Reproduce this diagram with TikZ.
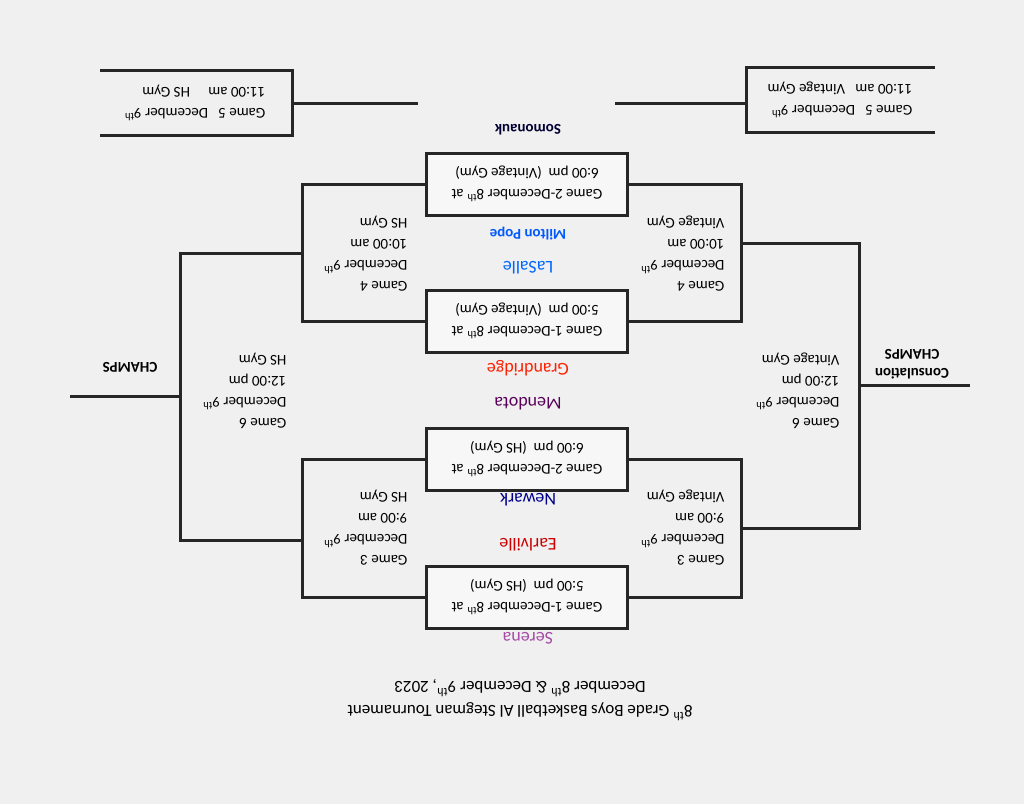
\documentclass[tikz,border=0pt]{standalone}
\usepackage{fontspec}
\setmainfont{Carlito}
\newcommand{\nth}[1]{#1\textsuperscript{th}}
\tikzset{
  bracket/.style={line width=3pt, color=black!85},
  gamebox/.style={rectangle, draw=black!85, line width=3pt, fill=gray!6, minimum width=201pt, minimum height=62pt, align=center, rotate=180, font=\fontsize{15}{21}\selectfont},
  info/.style={align=left, anchor=west, rotate=180, font=\fontsize{15}{21}\selectfont},
  team/.style={rotate=180, font=\fontsize{18}{20}\selectfont}
}
\begin{document}
\begin{tikzpicture}[x=1pt, y=-1pt]
\fill[gray!12] (0,0) rectangle (1024,804);
\useasboundingbox (0,0) rectangle (1024,804);

% first round games
\node[gamebox] (game1 hs) at (527,597) {Game 1-December \nth{8} at\\5:00 pm \ (HS Gym)};
\node[gamebox] (game2 hs) at (527,459) {Game 2-December \nth{8} at\\6:00 pm \ (HS Gym)};
\node[gamebox] (game1 vg) at (527,321) {Game 1-December \nth{8} at\\5:00 pm \ (Vintage Gym)};
\node[gamebox] (game2 vg) at (527,184) {Game 2-December \nth{8} at\\6:00 pm \ (Vintage Gym)};

% brackets
\draw[bracket] (game1 hs.east) -- (302,597) |- (game2 hs.east);
\draw[bracket] (game1 hs.west) -- (741,597) |- (game2 hs.west);
\draw[bracket] (game1 vg.east) -- (302,321) |- (game2 vg.east);
\draw[bracket] (game1 vg.west) -- (741,321) |- (game2 vg.west);
\draw[bracket] (302,540) -- (180,540) -- (180,253) -- (302,253);
\draw[bracket] (741,528) -- (859,528) -- (859,243) -- (741,243);
\coordinate (champs) at (70,396);
\coordinate (consol) at (970,385);
\draw[bracket] (180,396) -- (champs);
\draw[bracket] (859,385) -- (consol);

% teams
\node[team, color=violet!70] (serena) at (528,638) {Serena};
\node[team, color=red!80!black] (earlville) at (528,545) {Earlville};
\node[team, color=blue!55!black] (newark) at (528,500) {Newark};
\node[team, color=violet!70!black] (mendota) at (528,404) {Mendota};
\node[team, color=red!75!orange] (grandridge) at (528,368) {Grandridge};
\node[team, color=blue!60!cyan] (lasalle) at (528,268) {LaSalle};
\node[team, color=blue!65!cyan, font=\bfseries\fontsize{15}{18}\selectfont] (milton) at (528,234) {Milton Pope};
\node[team, color=black!80!blue, font=\bfseries\fontsize{15}{18}\selectfont] (somonauk) at (528,130) {Somonauk};

% second day games
\node[info] (game3 vg) at (728,528) {Game 3\\December \nth{9}\\9:00 am\\Vintage Gym};
\node[info] (game3 hs) at (411,528) {Game 3\\December \nth{9}\\9:00 am\\HS Gym};
\node[info] (game4 vg) at (728,254) {Game 4\\December \nth{9}\\10:00 am\\Vintage Gym};
\node[info] (game4 hs) at (411,254) {Game 4\\December \nth{9}\\10:00 am\\HS Gym};
\node[info] (game6 vg) at (843,391) {Game 6\\December \nth{9}\\12:00 pm\\Vintage Gym};
\node[info] (game6 hs) at (290,391) {Game 6\\December \nth{9}\\12:00 pm\\HS Gym};

\node[rotate=180, font=\bfseries\fontsize{15}{16}\selectfont] (champs lbl) at (130,367) {CHAMPS};
\node[rotate=180, align=center, font=\bfseries\fontsize{15}{19}\selectfont] (consol lbl) at (912,364) {Consulation\\CHAMPS};

% game 5
\draw[bracket] (100,70) -- (292,70) -- (292,135) -- (100,135);
\draw[bracket] (935,67) -- (746,67) -- (746,132) -- (935,132);
\draw[bracket] (292,103) -- (418,103);
\draw[bracket] (615,103) -- (746,103);
\node[rotate=180, align=left, font=\fontsize{15}{21}\selectfont] (game5 hs) at (195,103) {Game 5 \ \ December \nth{9}\\11:00 am \quad HS Gym};
\node[rotate=180, align=left, font=\fontsize{15}{21}\selectfont] (game5 vg) at (840,100) {Game 5 \ \ December \nth{9}\\11:00 am \ \ Vintage Gym};

% title
\node[rotate=180, align=center, font=\fontsize{17}{24}\selectfont] (title) at (520,700) {\nth{8} Grade Boys Basketball Al Stegman Tournament\\December \nth{8} \& December \nth{9}, 2023};
\end{tikzpicture}
\end{document}
